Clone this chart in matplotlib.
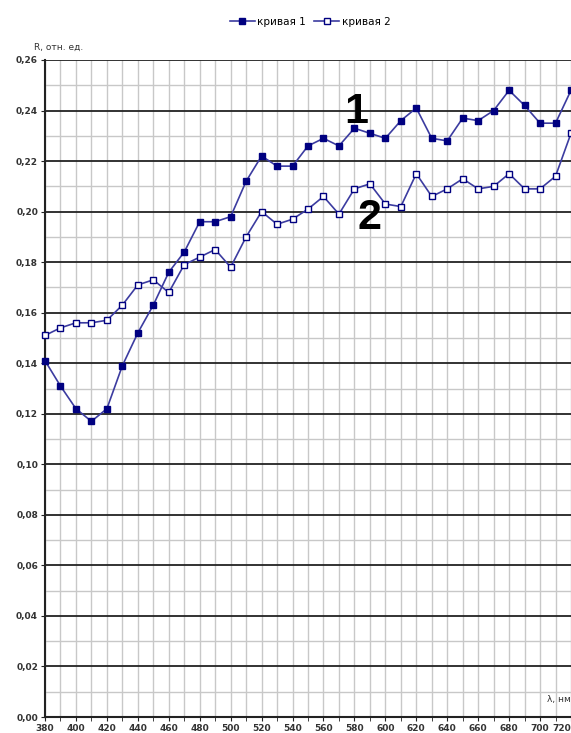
import matplotlib
matplotlib.use('Agg')
import matplotlib.pyplot as plt
from matplotlib.ticker import MultipleLocator, FuncFormatter

wavelength = list(range(380, 721, 10))

curve1 = [0.141, 0.131, 0.122, 0.117, 0.122, 0.139, 0.152, 0.163, 0.176, 0.184,
          0.196, 0.196, 0.198, 0.212, 0.222, 0.218, 0.218, 0.226, 0.229, 0.226,
          0.233, 0.231, 0.229, 0.236, 0.241, 0.229, 0.228, 0.237, 0.236, 0.240,
          0.248, 0.242, 0.235, 0.235, 0.248]

curve2 = [0.151, 0.154, 0.156, 0.156, 0.157, 0.163, 0.171, 0.173, 0.168, 0.179,
          0.182, 0.185, 0.178, 0.190, 0.200, 0.195, 0.197, 0.201, 0.206, 0.199,
          0.209, 0.211, 0.203, 0.202, 0.215, 0.206, 0.209, 0.213, 0.209, 0.210,
          0.215, 0.209, 0.209, 0.214, 0.231]

series_names = ['кривая 1', 'кривая 2']
x_ticks = list(range(380, 721, 20))

navy = '#000080'
line_col = '#3c3ca0'

fig = plt.figure(figsize=(5.71, 7.33), dpi=100)
ax = fig.add_axes([45 / 571, 16 / 733, 1 - 45 / 571, 657 / 733])

ax.plot(wavelength, curve1, '-', color=line_col, lw=1.2, marker='s', ms=4.6,
        mfc=navy, mec=navy, label=series_names[0], clip_on=False, zorder=4)
ax.plot(wavelength, curve2, '-', color=line_col, lw=1.2, marker='s', ms=4.6,
        mfc='white', mec=navy, mew=1.0, label=series_names[1], clip_on=False, zorder=4)

ax.set_xlim(380, 720)
ax.set_ylim(0, 0.26)

ax.xaxis.set_major_locator(MultipleLocator(20))
ax.xaxis.set_minor_locator(MultipleLocator(10))
ax.yaxis.set_major_locator(MultipleLocator(0.02))
ax.yaxis.set_minor_locator(MultipleLocator(0.01))
ax.yaxis.set_major_formatter(FuncFormatter(lambda v, p: f'{v:.2f}'.replace('.', ',')))
ax.set_xticks(x_ticks)

ax.grid(True, which='minor', color='#c8c8c8', lw=1.0)
ax.grid(True, which='major', axis='x', color='#c8c8c8', lw=1.0)
ax.grid(True, which='major', axis='y', color='#222222', lw=1.3)
ax.set_axisbelow(True)

for s in ['top', 'right']:
    ax.spines[s].set_visible(False)
ax.spines['left'].set_color('#222222')
ax.spines['bottom'].set_color('#222222')
ax.spines['left'].set_linewidth(1.5)
ax.spines['bottom'].set_linewidth(1.5)

ax.tick_params(which='both', direction='out', labelsize=6.5, color='#222222')
ax.tick_params(which='major', length=3, pad=2)
ax.tick_params(which='minor', axis='x', length=3)
ax.tick_params(which='minor', axis='y', length=0)
for lab in ax.get_xticklabels() + ax.get_yticklabels():
    lab.set_fontweight('bold')
    lab.set_color('#333333')
# last x label sits at the right edge, keep it inside the picture
ax.get_xticklabels()[-1].set_horizontalalignment('right')

ax.text(-0.02, 1.012, 'R, отн. ед.', transform=ax.transAxes, fontsize=6.5,
        ha='left', va='bottom', color='#333333')
ax.text(0.955, 0.02, 'λ, нм', transform=ax.transAxes, fontsize=6.5,
        ha='left', va='bottom', color='#333333')

ax.text(581, 0.2394, '1', fontsize=31, fontweight='bold', family='Liberation Sans',
        ha='center', va='center')
ax.text(590, 0.1975, '2', fontsize=31, fontweight='bold', family='Liberation Sans',
        ha='center', va='center')

fig.legend(loc='upper center', bbox_to_anchor=(0.543, 0.99), ncol=2, frameon=False,
           fontsize=7.5, handlelength=2.4, columnspacing=0.8, handletextpad=0.25,
           markerscale=0.9)

fig.savefig('out.png', dpi=100)
